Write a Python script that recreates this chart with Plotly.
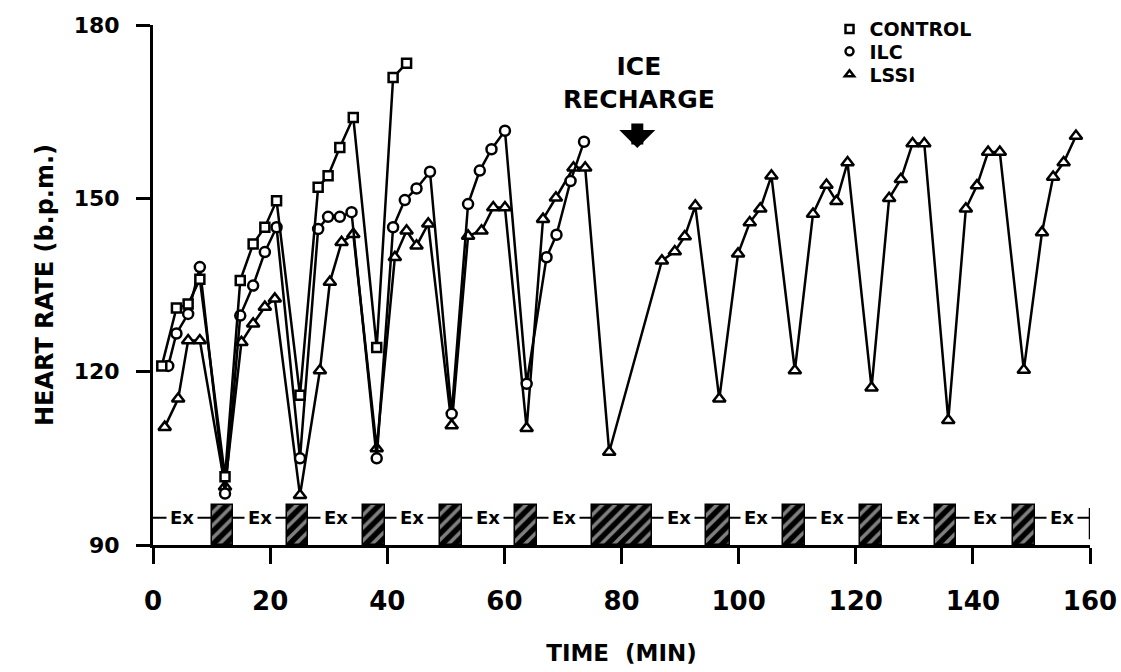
import plotly.graph_objects as go

# ---- heart-rate series (time in min, heart rate in b.p.m.) ----
control_t = [1.5, 4.0, 6.0, 8.0, 12.3, 14.9, 17.1, 19.1, 21.1, 25.1, 28.2, 29.9, 31.9, 34.2,
             38.2, 41.0, 43.3]
control_hr = [121.0, 131.0, 131.7, 136.0, 101.8, 135.8, 142.1, 145.0, 149.6, 115.9, 151.9,
              153.9, 158.8, 164.0, 124.2, 170.9, 173.4]

ilc_t = [2.6, 4.0, 6.0, 8.0, 12.3, 14.9, 17.1, 19.1, 21.1, 25.1, 28.2, 29.9, 31.9, 33.9,
         38.2, 41.0, 43.0, 45.0, 47.3, 51.0, 53.8, 55.8, 57.8, 60.1, 63.8, 67.2, 68.9,
         71.3, 73.6]
ilc_hr = [121.0, 126.6, 130.0, 138.1, 98.9, 129.7, 134.9, 140.7, 145.0, 105.0, 144.7, 146.8,
          146.8, 147.6, 105.0, 145.0, 149.7, 151.7, 154.6, 112.7, 149.0, 154.8, 158.5,
          161.7, 117.9, 139.8, 143.7, 153.0, 159.8]

lssi_t = [2.0, 4.3, 6.0, 8.0, 12.3, 15.1, 17.1, 19.1, 20.8, 25.1, 28.5, 30.2, 32.2, 34.2,
          38.2, 41.3, 43.3, 45.0, 47.0, 51.0, 53.8, 56.1, 58.1, 60.1, 63.8, 66.6, 68.8,
          71.8, 73.8, 77.9, 86.9, 89.1, 90.8, 92.6, 96.7, 99.9, 101.9, 103.7, 105.6, 109.6,
          112.7, 115.0, 116.7, 118.6, 122.7, 125.7, 127.7, 129.7, 131.7, 135.8, 138.8,
          140.7, 142.6, 144.6, 148.7, 151.8, 153.7, 155.5, 157.6]
lssi_hr = [110.4, 115.3, 125.4, 125.4, 100.1, 125.1, 128.3, 131.2, 132.6, 98.6, 120.2, 135.5,
           142.4, 143.8, 106.7, 139.8, 144.4, 141.8, 145.6, 110.7, 143.5, 144.4, 148.4,
           148.4, 110.2, 146.4, 150.1, 155.3, 155.3, 106.1, 139.2, 140.8, 143.4, 148.7,
           115.3, 140.4, 145.8, 148.2, 153.9, 120.2, 147.3, 152.3, 149.5, 156.2, 117.2,
           150.0, 153.3, 159.5, 159.5, 111.6, 148.2, 152.2, 158.0, 158.0, 120.3, 144.1,
           153.7, 156.2, 160.8]

# ---- protocol: rest periods (hatched) between exercise bouts ----
rest_start = [10.0, 22.8, 35.9, 49.0, 61.8, 74.9, 94.5, 107.6, 120.7, 133.5, 146.9]
rest_end = [13.7, 26.5, 39.6, 52.7, 65.5, 85.2, 98.5, 111.3, 124.4, 137.2, 150.6]
session_end = 160.0
band_top = 97.0
band_line = 94.7

x_ticks = [0, 20, 40, 60, 80, 100, 120, 140, 160]
y_ticks = [90, 120, 150, 180]

FONT = "DejaVu Sans"

fig = go.Figure()

# hatched rest blocks
fig.add_trace(go.Bar(
    x=[(a + b) / 2 for a, b in zip(rest_start, rest_end)],
    y=[band_top - 90] * len(rest_start),
    base=90,
    width=[b - a for a, b in zip(rest_start, rest_end)],
    marker=dict(color="black", line=dict(color="black", width=1.5),
                pattern=dict(shape="/", bgcolor="black", fgcolor="white",
                             size=9, solidity=0.4)),
    showlegend=False, hoverinfo="skip",
))

# "Ex" labels centred on each exercise bout
ex_start = [0.0] + rest_end
ex_end = rest_start + [session_end]
for a, b in zip(ex_start, ex_end):
    fig.add_annotation(x=(a + b) / 2, y=band_line, text="Ex", showarrow=False,
                       bgcolor="white", borderpad=3,
                       font=dict(family=FONT, size=18, color="black", weight="bold"))

fig.add_shape(type="line", x0=0, x1=session_end, y0=band_line, y1=band_line,
              line=dict(color="black", width=2), layer="below")
fig.add_shape(type="line", x0=session_end, x1=session_end, y0=91.0, y1=96.4,
              line=dict(color="black", width=2.5))

line_style = dict(color="black", width=2.5)
series = [
    ("LSSI", lssi_t, lssi_hr, "triangle-up", 11),
    ("ILC", ilc_t, ilc_hr, "circle", 10),
    ("CONTROL", control_t, control_hr, "square", 9),
]
for name, t, hr, sym, size in series:
    fig.add_trace(go.Scatter(
        x=t, y=hr, mode="lines+markers", name=name, showlegend=False,
        line=line_style, cliponaxis=False,
        marker=dict(symbol=sym, size=size, color="white",
                    line=dict(color="black", width=2.5)),
    ))

# legend entries, one legend per row (positions in paper units inside the plot)
legend_rows = [("CONTROL", "square", "legend"), ("ILC", "circle", "legend2"),
               ("LSSI", "triangle-up", "legend3")]
row_y = [0.992, 0.949, 0.905]
for (name, sym, lg), ly in zip(legend_rows, row_y):
    fig.add_trace(go.Scatter(
        x=[None], y=[None], mode="markers", name=name, legend=lg,
        marker=dict(symbol=sym, size=8, color="white",
                    line=dict(color="black", width=2.5)),
    ))
    fig.update_layout({lg: dict(
        x=0.722, y=ly, xref="paper", yref="paper",
        xanchor="left", yanchor="middle", bgcolor="rgba(0,0,0,0)",
        font=dict(family=FONT, size=19, color="black", weight="bold"),
        itemclick=False, itemdoubleclick=False,
    )})

# ICE RECHARGE note with a down arrow
fig.add_annotation(x=82.7, y=158.7, xref="x", yref="y", text="", showarrow=True,
                   ax=0, ay=-26, arrowhead=1, arrowsize=0.5, arrowwidth=12,
                   arrowcolor="black")
fig.add_annotation(x=83.0, y=164.3, xref="x", yref="y", text="ICE<br>RECHARGE",
                   showarrow=False, yanchor="bottom", align="center",
                   font=dict(family=FONT, size=25, color="black", weight="bold"))

axis_common = dict(showgrid=False, zeroline=False, showline=True, linecolor="black",
                   linewidth=3, ticks="outside", tickcolor="black", tickwidth=3)

fig.update_xaxes(range=[0, 160], tickvals=x_ticks, ticklen=16, ticklabelstandoff=15,
                 tickfont=dict(family=FONT, size=26, color="black", weight="bold"),
                 title=dict(text="TIME  (MIN)", standoff=30,
                            font=dict(family=FONT, size=23, color="black", weight="bold")),
                 **axis_common)
fig.update_yaxes(range=[90, 180], tickvals=y_ticks, ticklen=14, ticklabelstandoff=12,
                 tickfont=dict(family=FONT, size=22, color="black", weight="bold"),
                 title=dict(text="HEART RATE (b.p.m.)", standoff=14,
                            font=dict(family=FONT, size=24, color="black", weight="bold")),
                 **axis_common)

fig.update_layout(
    width=1121, height=672,
    margin=dict(l=153, r=31, t=25, b=127, autoexpand=False),
    paper_bgcolor="white", plot_bgcolor="white",
    bargap=0,
)

fig.write_html("out.html")
